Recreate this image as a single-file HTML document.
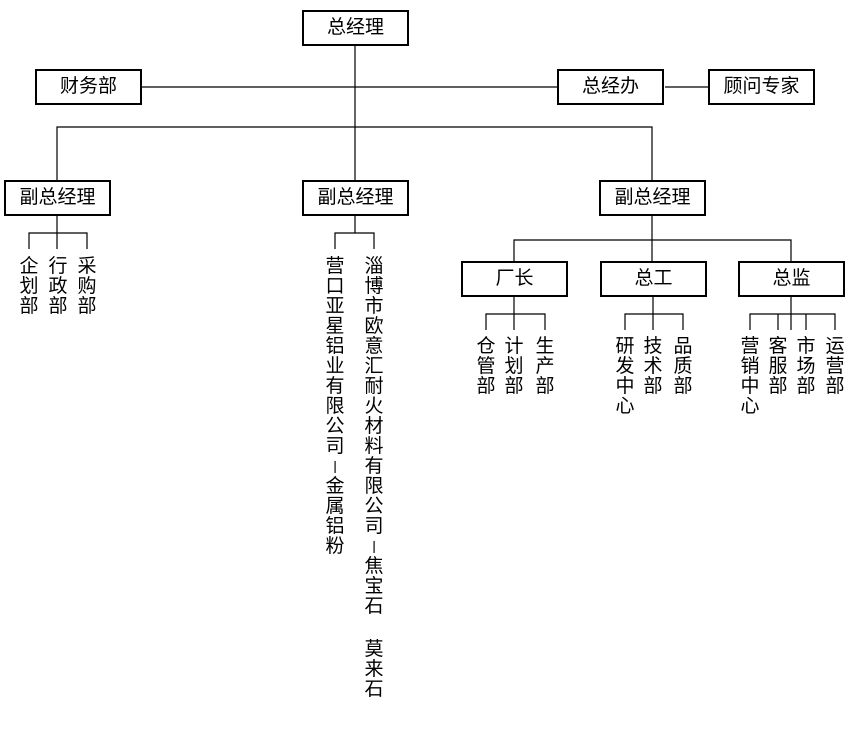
<!DOCTYPE html>
<html><head><meta charset="utf-8"><style>
body{margin:0;width:850px;height:732px;background:#fff;position:relative;overflow:hidden;font-family:"Liberation Sans","Noto Sans CJK SC",sans-serif;color:#000}
.b{position:absolute;box-sizing:border-box;border:2px solid #000;height:36px;width:107px;text-align:center;line-height:32px;font-size:19px;background:#fff}
.c{position:absolute;width:20px;font-size:19px;text-align:center}
.c div{height:20px;line-height:20px}
.d span{display:inline-block;transform:rotate(90deg) scaleX(2.6) scaleY(0.8)}
svg{position:absolute;left:0;top:0}
</style></head><body>
<svg width="850" height="732" stroke="#000" stroke-width="1.2" fill="none">
<line x1="355" y1="46" x2="355" y2="180"/>
<line x1="142" y1="87" x2="557" y2="87"/>
<line x1="665" y1="87" x2="708" y2="87"/>
<polyline points="57,180 57,127 652,127 652,180"/>
<line x1="57" y1="216" x2="57" y2="249"/>
<polyline points="29,249 29,233 87,233 87,249"/>
<line x1="355" y1="216" x2="355" y2="233"/>
<polyline points="335,249 335,233 374,233 374,249"/>
<line x1="652" y1="216" x2="652" y2="261"/>
<polyline points="514,261 514,240 791,240 791,261"/>
<line x1="514" y1="297" x2="514" y2="330"/>
<polyline points="486,330 486,314 545,314 545,330"/>
<line x1="653" y1="297" x2="653" y2="330"/>
<polyline points="625,330 625,314 683,314 683,330"/>
<line x1="791" y1="297" x2="791" y2="330"/>
<polyline points="750,330 750,314 835,314 835,330"/>
<line x1="778" y1="314" x2="778" y2="330"/>
<line x1="806" y1="314" x2="806" y2="330"/>
</svg>
<div class="b" style="left:302px;top:10px">总经理</div>
<div class="b" style="left:35px;top:69px">财务部</div>
<div class="b" style="left:557px;top:69px">总经办</div>
<div class="b" style="left:708px;top:69px">顾问专家</div>
<div class="b" style="left:4px;top:180px">副总经理</div>
<div class="b" style="left:302px;top:180px">副总经理</div>
<div class="b" style="left:599px;top:180px">副总经理</div>
<div class="b" style="left:461px;top:261px">厂长</div>
<div class="b" style="left:600px;top:261px">总工</div>
<div class="b" style="left:738px;top:261px">总监</div>

<div class="c" style="left:19px;top:257px"><div>企</div><div>划</div><div>部</div></div>
<div class="c" style="left:48px;top:257px"><div>行</div><div>政</div><div>部</div></div>
<div class="c" style="left:77px;top:257px"><div>采</div><div>购</div><div>部</div></div>

<div class="c" style="left:325px;top:257px"><div>营</div><div>口</div><div>亚</div><div>星</div><div>铝</div><div>业</div><div>有</div><div>限</div><div>公</div><div>司</div><div class="d"><span>-</span></div><div>金</div><div>属</div><div>铝</div><div>粉</div></div>
<div class="c" style="left:364px;top:257px"><div>淄</div><div>博</div><div>市</div><div>欧</div><div>意</div><div>汇</div><div>耐</div><div>火</div><div>材</div><div>料</div><div>有</div><div>限</div><div>公</div><div>司</div><div class="d"><span>-</span></div><div>焦</div><div>宝</div><div>石</div><div></div><div style="margin-top:3px">莫</div><div>来</div><div>石</div></div>

<div class="c" style="left:476px;top:337px"><div>仓</div><div>管</div><div>部</div></div>
<div class="c" style="left:504px;top:337px"><div>计</div><div>划</div><div>部</div></div>
<div class="c" style="left:535px;top:337px"><div>生</div><div>产</div><div>部</div></div>
<div class="c" style="left:615px;top:337px"><div>研</div><div>发</div><div>中</div><div>心</div></div>
<div class="c" style="left:643px;top:337px"><div>技</div><div>术</div><div>部</div></div>
<div class="c" style="left:673px;top:337px"><div>品</div><div>质</div><div>部</div></div>
<div class="c" style="left:740px;top:337px"><div>营</div><div>销</div><div>中</div><div>心</div></div>
<div class="c" style="left:768px;top:337px"><div>客</div><div>服</div><div>部</div></div>
<div class="c" style="left:796px;top:337px"><div>市</div><div>场</div><div>部</div></div>
<div class="c" style="left:825px;top:337px"><div>运</div><div>营</div><div>部</div></div>
</body></html>
